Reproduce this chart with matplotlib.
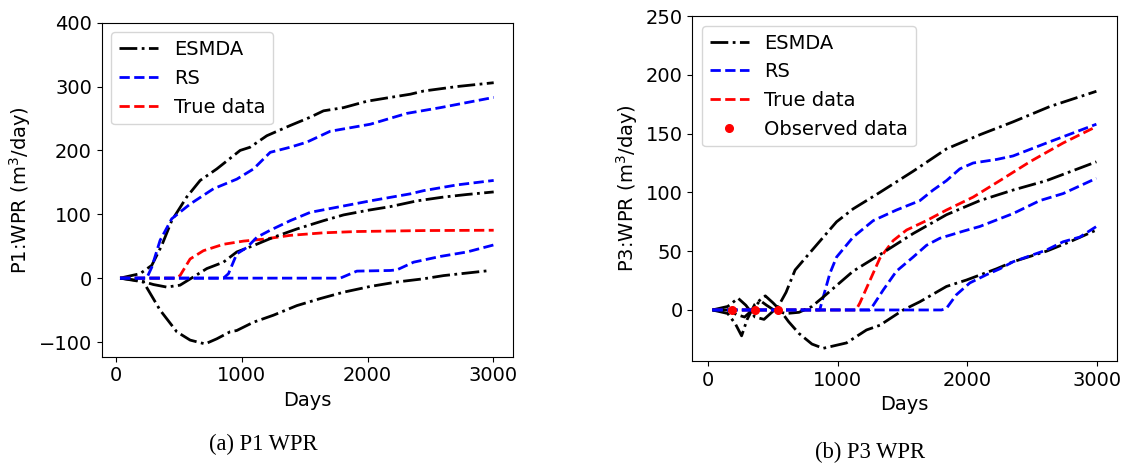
import numpy as np
import matplotlib
matplotlib.use('Agg')
import matplotlib.pyplot as plt

# Values (days, m3/day)

# ---- P1 WPR ----
p1_esmda_hi_x = [32, 191, 284, 363, 443, 562, 669, 801, 987, 1066, 1199, 1385, 1544, 1650, 1809, 1995, 2181, 2340, 2446, 2711, 3003]
p1_esmda_hi_y = [0, 7, 20, 51, 90, 127, 153, 171, 200, 205, 223, 239, 252, 262, 267, 277, 283, 288, 293, 300, 306]
p1_esmda_mid_x = [32, 191, 297, 403, 509, 616, 722, 854, 960, 1093, 1252, 1438, 1650, 1809, 1995, 2181, 2393, 2605, 2791, 3003]
p1_esmda_mid_y = [0, -4, -10, -14, -11, 2, 15, 25, 41, 51, 64, 77, 90, 99, 106, 112, 121, 127, 131, 135]
p1_esmda_lo_x = [32, 218, 350, 483, 589, 708, 801, 907, 960, 1093, 1252, 1438, 1624, 1809, 2022, 2234, 2446, 2605, 2791, 2977]
p1_esmda_lo_y = [0, -6, -50, -84, -97, -103, -95, -84, -82, -69, -58, -43, -32, -22, -13, -6, -1, 4, 8, 12]

p1_rs_hi_x = [32, 244, 284, 350, 443, 589, 775, 960, 1093, 1226, 1385, 1518, 1703, 2022, 2313, 2579, 2791, 3003]
p1_rs_hi_y = [0, 0, 17, 59, 93, 116, 140, 155, 171, 197, 205, 213, 230, 241, 258, 267, 275, 283]
p1_rs_mid_x = [32, 854, 894, 960, 1040, 1120, 1226, 1385, 1544, 1756, 2022, 2340, 2446, 2711, 3003]
p1_rs_mid_y = [0, 0, 7, 38, 48, 64, 75, 90, 103, 111, 121, 132, 137, 146, 153]
p1_rs_lo_x = [32, 1783, 1915, 2181, 2234, 2366, 2579, 2791, 3003]
p1_rs_lo_y = [0, 0, 11, 12, 13, 25, 34, 41, 52]

p1_true_x = [32, 470, 509, 589, 695, 854, 1013, 1173, 1385, 1650, 1915, 2446, 3003]
p1_true_y = [0, 0, 4, 30, 43, 53, 58, 61, 67, 71, 73, 74.5, 75]

# ---- P3 WPR ----
p3_esmda_hi_x = [32, 150, 230, 290, 360, 430, 480, 540, 600, 670, 810, 990, 1118, 1324, 1581, 1838, 2095, 2352, 2635, 2995]
p3_esmda_hi_y = [0, 3, 10, 4, -6, -8, -3, 3, 15, 34, 52, 75, 86, 100, 118, 137, 149, 160, 173, 186]
p3_esmda_mid_x = [32, 150, 220, 280, 340, 400, 450, 520, 600, 700, 800, 887, 1118, 1324, 1581, 1838, 2095, 2352, 2610, 2995]
p3_esmda_mid_y = [0, 0, -4, -6, 0, 8, 4, -1, -3, -2, 3, 11, 33, 47, 65, 81, 93, 102, 110, 126]
p3_esmda_lo_x = [32, 150, 210, 257, 300, 360, 440, 500, 553, 620, 700, 800, 887, 1067, 1221, 1324, 1504, 1633, 1838, 1993, 2224, 2352, 2610, 2790, 2995]
p3_esmda_lo_y = [0, -3, -12, -22, -8, 5, 12, 6, 0, -10, -20, -29, -32.6, -28, -17, -13, 0, 7, 20, 25.5, 35, 41, 50, 58, 68]

p3_rs_hi_x = [32, 860, 887, 938, 990, 1118, 1273, 1452, 1633, 1735, 1838, 1941, 2044, 2224, 2352, 2610, 2995]
p3_rs_hi_y = [0, 0, 11, 31, 45, 62, 76, 85, 93, 102, 110, 120, 125, 128, 131, 142, 158]
p3_rs_mid_x = [32, 1245, 1273, 1350, 1452, 1581, 1684, 1787, 1967, 2095, 2352, 2558, 2738, 2995]
p3_rs_mid_y = [0, 0, 4, 17, 33, 45, 55, 61, 67, 71, 82, 93, 99, 112]
p3_rs_lo_x = [32, 1800, 1838, 1915, 2018, 2147, 2250, 2352, 2610, 2738, 2867, 2995]
p3_rs_lo_y = [0, 0, 1.4, 13, 23, 30, 35, 41, 51, 58, 62, 71]

p3_true_x = [32, 1140, 1170, 1247, 1324, 1427, 1530, 1684, 1838, 2044, 2250, 2481, 2738, 2995]
p3_true_y = [0, 0, 6, 25, 44, 59, 68, 76, 85, 96, 110, 126, 142, 156]

p3_obs_x = [180, 360, 540]
p3_obs_y = [0, 0, 0]

plt.rcParams['font.size'] = 14

fig = plt.figure(figsize=(11.3, 4.63), dpi=100)
ax1 = fig.add_axes([0.090, 0.2296, 0.3637, 0.7214])
ax2 = fig.add_axes([0.6127, 0.2203, 0.3758, 0.7451])

lw = 2

# Panel (a)
ax1.plot(p1_esmda_hi_x, p1_esmda_hi_y, 'k-.', lw=lw, label='ESMDA')
ax1.plot(p1_rs_hi_x, p1_rs_hi_y, 'b--', lw=lw, label='RS')
ax1.plot(p1_true_x, p1_true_y, 'r--', lw=lw, label='True data')
ax1.plot(p1_esmda_mid_x, p1_esmda_mid_y, 'k-.', lw=lw)
ax1.plot(p1_esmda_lo_x, p1_esmda_lo_y, 'k-.', lw=lw)
ax1.plot(p1_rs_mid_x, p1_rs_mid_y, 'b--', lw=lw)
ax1.plot(p1_rs_lo_x, p1_rs_lo_y, 'b--', lw=lw)
ax1.set_xlim(-114, 3154)
ax1.set_ylim(-123, 400)
ax1.set_xticks([0, 1000, 2000, 3000])
ax1.set_yticks([-100, 0, 100, 200, 300, 400])
ax1.set_xlabel('Days')
ax1.set_ylabel('P1:WPR (m$^3$/day)')
ax1.legend(loc='upper left')

# Panel (b)
ax2.plot(p3_esmda_hi_x, p3_esmda_hi_y, 'k-.', lw=lw, label='ESMDA')
ax2.plot(p3_rs_hi_x, p3_rs_hi_y, 'b--', lw=lw, label='RS')
ax2.plot(p3_true_x, p3_true_y, 'r--', lw=lw, label='True data')
ax2.plot(p3_esmda_mid_x, p3_esmda_mid_y, 'k-.', lw=lw)
ax2.plot(p3_esmda_lo_x, p3_esmda_lo_y, 'k-.', lw=lw)
ax2.plot(p3_rs_mid_x, p3_rs_mid_y, 'b--', lw=lw)
ax2.plot(p3_rs_lo_x, p3_rs_lo_y, 'b--', lw=lw)
ax2.plot(p3_obs_x, p3_obs_y, 'r.', ms=11, label='Observed data')
ax2.set_xlim(-123, 3154)
ax2.set_ylim(-43.4, 250)
ax2.set_xticks([0, 1000, 2000, 3000])
ax2.set_yticks([0, 50, 100, 150, 200, 250])
ax2.set_xlabel('Days')
ax2.set_ylabel('P3:WPR (m$^3$/day)')
ax2.legend(loc='upper left')

# subfigure captions
fig.text(263 / 1130, 1 - 444 / 463, '(a) P1 WPR', ha='center', va='center',
         family='Liberation Serif', fontsize=16.3)
fig.text(870 / 1130, 1 - 452 / 463, '(b) P3 WPR', ha='center', va='center',
         family='Liberation Serif', fontsize=16.3)

fig.savefig('out.png', dpi=100)
